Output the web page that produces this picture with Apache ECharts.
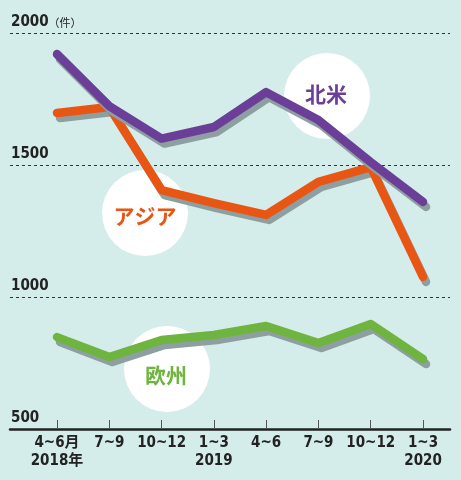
<!DOCTYPE html>
<html><head><meta charset="utf-8">
<script src="https://cdn.jsdelivr.net/npm/echarts@6/dist/echarts.min.js"></script>
<style>html,body{margin:0;padding:0;background:#d4ecea;}#c{width:461px;height:480px;}</style>
</head><body><div id="c"></div>
<script>
const categories = ['4~6月\n2018年', '7~9', '10~12', '1~3\n2019', '4~6', '7~9', '10~12', '1~3\n2020'];
const northAmerica = [1920, 1723, 1600, 1644, 1776, 1670, 1511, 1360];
const asia = [1697, 1720, 1405, 1356, 1311, 1436, 1492, 1076];
const europe = [848, 773, 837, 856, 890, 826, 898, 765];
const yTicks = [500, 1000, 1500, 2000];

const FONT = '"Liberation Sans Narrow", "DejaVu Sans Condensed", "Noto Sans CJK JP", sans-serif';
const idx = categories.map((_, i) => i);
function pts(arr) { return arr.map((v, i) => [i, v]); }
function lineSeries(name, arr, color, z) {
  return {
    type: 'line', name: name, data: pts(arr), symbol: 'none', z: z,
    lineStyle: { color: color, width: 8.5, cap: 'round', join: 'round',
      shadowColor: '#8d9fa0', shadowOffsetX: 3, shadowOffsetY: 5, shadowBlur: 0 }
  };
}
const chart = echarts.init(document.getElementById('c'), null, { renderer: 'canvas' });
chart.setOption({
  backgroundColor: '#d4ecea',
  animation: false,
  grid: { left: 10, right: 11, top: 33, bottom: 51 },
  xAxis: {
    type: 'value', min: -0.899, max: 7.516,
    splitLine: { show: false },
    axisLine: { show: true, onZero: false, lineStyle: { color: '#222', width: 2.5 } },
    axisTick: { show: true, inside: true, length: 9, customValues: idx, lineStyle: { color: '#555', width: 1 } },
    axisLabel: {
      customValues: idx, formatter: v => categories[Math.round(v)],
      fontFamily: FONT, fontWeight: 'bold', fontSize: 15, color: '#222', lineHeight: 18, margin: 5
    }
  },
  yAxis: {
    type: 'value', min: yTicks[0], max: yTicks[yTicks.length - 1], interval: 500,
    axisLine: { show: false }, axisTick: { show: false },
    splitLine: { show: true, lineStyle: { color: '#333', type: [3, 3], width: 1 } },
    axisLabel: {
      inside: true, margin: 1, verticalAlign: 'bottom', showMinLabel: true, showMaxLabel: true,
      formatter: v => v === 2000 ? '{a|2000}{b|（件）}' : '{a|' + v + '}',
      rich: {
        a: { fontFamily: FONT, fontWeight: 'bold', fontSize: 15, color: '#222', padding: [0, 0, 3, 0] },
        b: { fontFamily: '"Noto Sans CJK JP", sans-serif', fontSize: 11, color: '#222', padding: [0, 0, 3, 0] }
      }
    }
  },
  graphic: [
    { type: 'circle', shape: { cx: 327, cy: 96, r: 43 }, style: { fill: '#ffffff' }, z: 0 },
    { type: 'circle', shape: { cx: 145, cy: 213, r: 43 }, style: { fill: '#ffffff' }, z: 0 },
    { type: 'circle', shape: { cx: 167, cy: 369, r: 43 }, style: { fill: '#ffffff' }, z: 0 },
    { type: 'text', x: 326, y: 94, z: 1, style: { text: '北米', fill: '#6b3f98', font: 'bold 21px "Noto Sans CJK JP"', align: 'center', verticalAlign: 'middle' } },
    { type: 'text', x: 145, y: 216, z: 1, style: { text: 'アジア', fill: '#e95513', font: 'bold 21px "Noto Sans CJK JP"', align: 'center', verticalAlign: 'middle' } },
    { type: 'text', x: 166, y: 375, z: 1, style: { text: '欧州', fill: '#6eb43f', font: 'bold 21px "Noto Sans CJK JP"', align: 'center', verticalAlign: 'middle' } }
  ],
  series: [
    lineSeries('欧州', europe, '#6eb43f', 3),
    lineSeries('アジア', asia, '#e95513', 4),
    lineSeries('北米', northAmerica, '#6b3f98', 5)
  ]
});
</script></body></html>
